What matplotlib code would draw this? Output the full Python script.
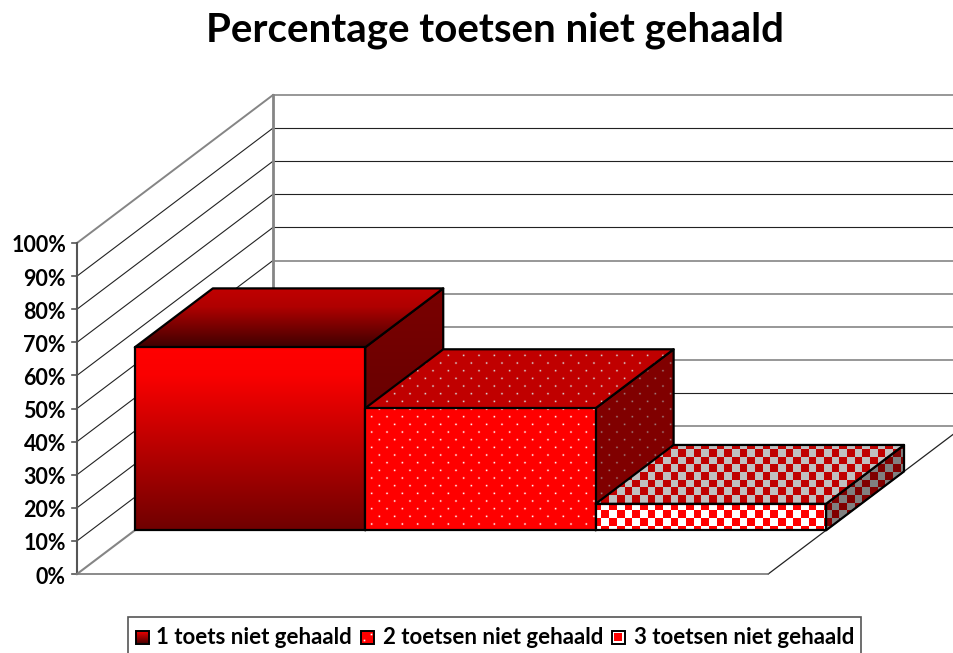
import matplotlib
matplotlib.use('Agg')
import matplotlib.pyplot as plt
from matplotlib.patches import Polygon, Rectangle
import numpy as np

title = 'Percentage toetsen niet gehaald'
categories = ['1 toets niet gehaald', '2 toetsen niet gehaald', '3 toetsen niet gehaald']
values = [55.3, 36.9, 8.0]
ticks = [0, 10, 20, 30, 40, 50, 60, 70, 80, 90, 100]
gray_levels = [0, 20, 30, 40, 50, 100]
legend_marker_x = [136, 361, 612]
legend_text_x = [156, 383, 634]

W, H = 954, 653
X0, Y0 = 77, 574
BAR_W = 230.4
DX, DY = 196, 148
PX_PER_PCT = 3.31
D_FRONT, D_BACK = 0.295, 0.693

plt.rcParams['font.family'] = ['Lato', 'DejaVu Sans']
fig = plt.figure(figsize=(W / 100, H / 100), dpi=100)
ax = fig.add_axes([0, 0, 1, 1])
ax.set_xlim(0, W)
ax.set_ylim(H, 0)
ax.axis('off')


def proj(cat, depth, val):
    return (X0 + cat * BAR_W + depth * DX, Y0 - depth * DY - val * PX_PER_PCT)


# walls and floor
for t in ticks:
    a = proj(0, 0, t)
    b = proj(0, 1, t)
    if t == 100:
        ax.plot([a[0], b[0]], [a[1], b[1]], color='#858585', lw=1.4, zorder=1)
    elif t > 0:
        ax.plot([a[0], b[0]], [a[1], b[1]], color='#222222', lw=0.8, zorder=1)
    if t in gray_levels:
        ax.plot([b[0], W], [b[1], b[1]], color='#858585', lw=1.2, zorder=1)
    else:
        ax.plot([b[0], W], [b[1], b[1]], color='#222222', lw=0.8, zorder=1)
    ax.plot([a[0] - 5, a[0]], [a[1], a[1]], color='#555555', lw=1.2, zorder=1)
    ax.text(66, a[1] + 3, '%d%%' % t, ha='right', va='center', fontsize=15.5, fontweight='bold', color='black')

a, b = proj(0, 0, 0), proj(0, 0, 100)
ax.plot([a[0], b[0]], [a[1], b[1]], color='#555555', lw=1.5, zorder=1)
a, b = proj(0, 1, 0), proj(0, 1, 100)
ax.plot([a[0], b[0]], [a[1], b[1]], color='#858585', lw=2, zorder=1)
a, b = proj(0, 0, 0), proj(0, 1, 0)
ax.plot([a[0], b[0]], [a[1], b[1]], color='#858585', lw=1.5, zorder=1)
a, b = proj(3, 0, 0), proj(3, 1, 0)
ax.plot([a[0], b[0]], [a[1], b[1]], color='#222222', lw=0.9, zorder=1)
a = proj(0, 0, 0)
ax.plot([a[0], proj(3, 0, 0)[0]], [a[1], a[1]], color='#777777', lw=1.2, zorder=1)

yy, xx = np.mgrid[0:H, 0:W]


def solid_texture(fg, bg, kind):
    fg = np.array(matplotlib.colors.to_rgb(fg))
    bg = np.array(matplotlib.colors.to_rgb(bg))
    if kind == 'dots':
        p = 15.33
        d = []
        for ox, oy in [(371.2, 416.2), (378.85, 423.85)]:
            d.append(np.hypot((xx - ox + p / 2) % p - p / 2, (yy - oy + p / 2) % p - p / 2))
        m = np.exp(-(np.minimum(d[0], d[1]) / 0.9) ** 2)
    else:
        c = 7.67
        m = ((np.floor((xx - 601) / c) + np.floor((yy - 502.3) / c)) % 2 == 0).astype(float)
    return bg + (fg - bg) * m[..., None]


def gradient_texture(y_top, y_bot, ys, cols):
    cols = np.array([matplotlib.colors.to_rgb(c) for c in cols])
    t = (np.arange(H) - y_top) / (y_bot - y_top)
    img = np.stack([np.interp(t, ys, cols[:, i]) for i in range(3)], axis=1)
    return np.repeat(img[:, None, :], W, axis=1)


def fill_face(pts, img, z):
    im = ax.imshow(img, extent=(0, W, H, 0), aspect='auto', interpolation='nearest', zorder=z)
    poly = Polygon(pts, closed=True, facecolor='none', edgecolor='black', lw=1.6, joinstyle='round', zorder=z + 0.1)
    ax.add_patch(poly)
    im.set_clip_path(poly)


# bars, drawn left to right so each one covers the side of the previous
for i, v in enumerate(values):
    fl, fr = proj(i, D_FRONT, 0), proj(i + 1, D_FRONT, 0)
    tl, tr = proj(i, D_FRONT, v), proj(i + 1, D_FRONT, v)
    bl, br = proj(i, D_BACK, v), proj(i + 1, D_BACK, v)
    br0 = proj(i + 1, D_BACK, 0)
    front = [fl, fr, tr, tl]
    top = [tl, tr, br, bl]
    side = [tr, br, br0, fr]
    z = 3 + i
    if i == 0:
        front_img = gradient_texture(tl[1], fl[1], [0, 0.15, 1], ['#ff0000', '#fa0000', '#6e0000'])
        top_img = gradient_texture(bl[1], tl[1], [0, 0.3, 1], ['#c00000', '#b00000', '#3c0000'])
        side_img = gradient_texture(br[1], br0[1], [0, 1], ['#7a0000', '#600000'])
    elif i == 1:
        front_img = solid_texture('#ffffff', '#ff0000', 'dots')
        top_img = solid_texture('#d8d8d8', '#c00000', 'dots')
        side_img = solid_texture('#a08080', '#800000', 'dots')
    else:
        front_img = solid_texture('#ffffff', '#ff0000', 'check')
        top_img = solid_texture('#c0c0c0', '#c00000', 'check')
        side_img = solid_texture('#808080', '#800000', 'check')
    fill_face(side, side_img, z)
    fill_face(top, top_img, z + 0.2)
    fill_face(front, front_img, z + 0.4)

ax.text(495, 30, title, ha='center', va='center', fontsize=29, fontweight='bold', color='black')

# legend
ax.add_patch(Rectangle((128.5, 616.5), 733, 40, facecolor='white', edgecolor='#555555', lw=1.2, zorder=8))
for i, name in enumerate(categories):
    mx = legend_marker_x[i]
    box = Rectangle((mx, 630.5), 13, 13, facecolor='none', edgecolor='black', lw=1.4, zorder=9.2)
    if i == 0:
        img = gradient_texture(630.5, 643.5, [0, 1], ['#ff0000', '#500000'])
        im = ax.imshow(img, extent=(0, W, H, 0), aspect='auto', interpolation='nearest', zorder=9)
        ax.add_patch(box)
        im.set_clip_path(box)
    elif i == 1:
        ax.add_patch(Rectangle((mx, 630.5), 13, 13, facecolor='#ff0000', edgecolor='none', zorder=9))
        ax.add_patch(box)
        ax.plot([mx + 3, mx + 10], [640, 634], ls='none', marker='s', ms=1.2, color='white', mew=0, zorder=9.1)
    else:
        ax.add_patch(Rectangle((mx, 630.5), 13, 13, facecolor='white', edgecolor='none', zorder=9))
        ax.add_patch(Rectangle((mx + 2.5, 633), 8, 8, facecolor='#ff0000', edgecolor='none', zorder=9.1))
        ax.add_patch(box)
    ax.text(legend_text_x[i], 638, name, ha='left', va='center', fontsize=16, fontweight='bold', color='black', zorder=9)

ax.set_xlim(0, W)
ax.set_ylim(H, 0)
fig.savefig('out.png', dpi=100)
